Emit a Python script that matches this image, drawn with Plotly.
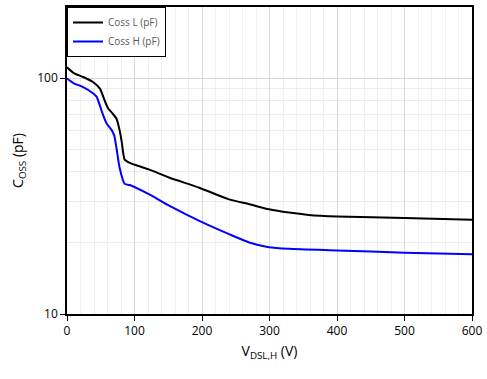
import plotly.graph_objects as go

# Output capacitance vs drain-source voltage
v_l = [0, 10, 24, 39, 49, 56, 61, 67, 73, 78, 81, 85.5, 93, 122, 152, 196, 240, 270, 299, 329, 358, 400, 500, 600]
coss_l = [111, 105, 101, 96, 90, 80, 74.3, 71, 67.5, 60, 53.8, 45.1, 43.7, 40.9, 37.8, 34.3, 30.6, 29.2, 27.8, 26.9, 26.3, 25.9, 25.5, 25.1]

v_h = [0, 10, 24, 39, 44, 49, 53.5, 58.5, 66, 70, 73.3, 78, 85.5, 93, 122, 152, 196, 240, 270, 299, 329, 400, 500, 600]
coss_h = [99.5, 95, 91.6, 86, 83.2, 76, 69.7, 64.3, 60.3, 57, 50.5, 41.6, 35.6, 35.2, 32.1, 28.7, 24.8, 21.8, 20.1, 19.2, 18.9, 18.6, 18.2, 17.9]

fig = go.Figure()
fig.add_trace(go.Scatter(x=v_l, y=coss_l, mode="lines", name="Coss L (pF)",
                         line=dict(color="black", width=2, shape="spline", smoothing=0.6)))
fig.add_trace(go.Scatter(x=v_h, y=coss_h, mode="lines", name="Coss H (pF)",
                         line=dict(color="#0000ff", width=2, shape="spline", smoothing=0.6)))

font_family = "Open Sans, Liberation Sans, sans-serif"

fig.update_layout(
    width=487, height=379,
    margin=dict(l=67, r=13, t=5, b=65),
    paper_bgcolor="white", plot_bgcolor="white",
    font=dict(family=font_family, size=12, color="black"),
    showlegend=True,
    legend=dict(x=0, y=1, xanchor="left", yanchor="top",
                bordercolor="black", borderwidth=1, bgcolor="white",
                font=dict(size=10, color="#595959"),
                tracegroupgap=0, itemwidth=30),
    xaxis=dict(
        range=[0, 600], dtick=100, tick0=0,
        showline=True, linecolor="black", linewidth=1.5, mirror=True,
        ticks="outside", ticklen=5, tickcolor="black",
        showgrid=True, gridcolor="#d9d9d9", gridwidth=1,
        minor=dict(dtick=20, showgrid=True, gridcolor="#f0f0f0", ticks=""),
        zeroline=False,
        title=dict(text="V<sub>DSL,H</sub> (V)", font=dict(size=14), standoff=8),
    ),
    yaxis=dict(
        type="log", range=[1, 2.301],
        tickvals=[10, 100], ticktext=["10", "100"],
        showline=True, linecolor="black", linewidth=1.5, mirror=True,
        ticks="outside", ticklen=5, tickcolor="black",
        showgrid=True, gridcolor="#d9d9d9", gridwidth=1,
        minor=dict(tickvals=[20, 30, 40, 50, 60, 70, 80, 90, 200],
                   showgrid=True, gridcolor="#ececec", ticks=""),
        zeroline=False,
        title=dict(text="C<sub>OSS</sub> (pF)", font=dict(size=14), standoff=10),
    ),
)

fig.write_html("out.html")
